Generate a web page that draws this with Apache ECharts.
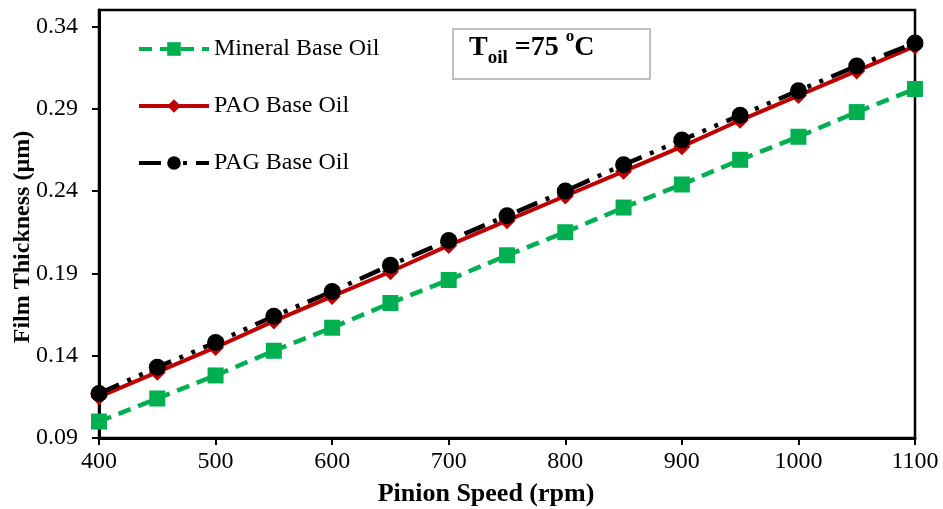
<!DOCTYPE html>
<html>
<head>
<meta charset="utf-8">
<script src="https://cdn.jsdelivr.net/npm/echarts@6/dist/echarts.min.js"></script>
<style>html,body{margin:0;padding:0;background:#fff}#c{width:943px;height:509px}</style>
</head>
<body>
<div id="c"></div>
<script>
// ---- data ----
const speeds = [400, 450, 500, 550, 600, 650, 700, 750, 800, 850, 900, 950, 1000, 1050, 1100];
const mineral = [0.100, 0.114, 0.128, 0.143, 0.157, 0.172, 0.186, 0.201, 0.215, 0.230, 0.244, 0.259, 0.273, 0.288, 0.302];
const pao = [0.115, 0.130, 0.145, 0.161, 0.176, 0.191, 0.207, 0.222, 0.237, 0.252, 0.267, 0.283, 0.298, 0.313, 0.328];
const pag = [0.117, 0.133, 0.148, 0.164, 0.179, 0.195, 0.210, 0.225, 0.240, 0.256, 0.271, 0.286, 0.301, 0.316, 0.330];
const seriesNames = ['Mineral Base Oil', 'PAO Base Oil', 'PAG Base Oil'];
const xTitle = 'Pinion Speed (rpm)';
const yTitle = 'Film Thickness (\u00b5m)';

const pairs = arr => speeds.map((s, i) => [s, arr[i]]);
const FONT = 'Liberation Serif';

const chart = echarts.init(document.getElementById('c'));
const legendBase = {
  orient: 'vertical', left: 132, itemWidth: 70, itemHeight: 17, padding: 5,
  textStyle: { fontFamily: FONT, fontSize: 24, color: '#000' },
  lineStyle: { width: 4 }
};
chart.setOption({
  animation: false,
  backgroundColor: '#fff',
  grid: {
    left: 99, right: 28, top: 10, bottom: 71, containLabel: false, outerBoundsMode: 'none',
    show: true, borderColor: '#000', borderWidth: 2.5, backgroundColor: 'transparent'
  },
  legend: [
    Object.assign({}, legendBase, { top: 32, data: [seriesNames[0]] }),
    Object.assign({}, legendBase, { top: 89, data: [seriesNames[1]] }),
    Object.assign({}, legendBase, { top: 146, data: [seriesNames[2]] })
  ],
  xAxis: {
    type: 'value', min: 400, max: 1100, interval: 100,
    name: xTitle, nameLocation: 'middle', nameGap: 43, nameMoveOverlap: false,
    nameTextStyle: { fontFamily: FONT, fontSize: 26, fontWeight: 'bold', color: '#000', padding: [0, 42, 0, 0] },
    axisLine: { show: true, lineStyle: { color: '#000', width: 3 } },
    axisTick: { show: true, inside: false, length: 7, lineStyle: { color: '#000', width: 2 } },
    axisLabel: { fontFamily: FONT, fontSize: 24, color: '#000', margin: 12, formatter: v => String(v) },
    splitLine: { show: false }
  },
  yAxis: {
    type: 'value', min: 0.09, max: 0.35, interval: 0.05,
    name: yTitle, nameLocation: 'middle', nameGap: 64, nameRotate: 90, nameMoveOverlap: false,
    nameTextStyle: { fontFamily: FONT, fontSize: 24, fontWeight: 'bold', color: '#000', padding: [0, 26, 0, 0] },
    axisLine: { show: true, lineStyle: { color: '#000', width: 3 } },
    axisTick: { show: true, inside: false, length: 7, lineStyle: { color: '#000', width: 2 } },
    axisLabel: {
      fontFamily: FONT, fontSize: 24, color: '#000', margin: 21, showMaxLabel: false,
      formatter: v => (v > 0.345 ? '' : v.toFixed(2))
    },
    splitLine: { show: false }
  },
  series: [
    {
      name: seriesNames[0], type: 'line', data: pairs(mineral),
      symbol: 'rect', symbolSize: 16,
      itemStyle: { color: '#00B050' },
      lineStyle: { color: '#00B050', width: 4.5, type: [13, 8] }
    },
    {
      name: seriesNames[1], type: 'line', data: pairs(pao),
      symbol: 'diamond', symbolSize: 17,
      itemStyle: { color: '#C00000' },
      lineStyle: { color: '#C00000', width: 4, type: 'solid' }
    },
    {
      name: seriesNames[2], type: 'line', data: pairs(pag),
      symbol: 'circle', symbolSize: 17,
      itemStyle: { color: '#000' },
      lineStyle: { color: '#000', width: 4.5, type: [22, 9, 4, 9, 4, 9] }
    }
  ],
  graphic: [
    {
      type: 'rect', left: 452, top: 28, z: 100,
      shape: { width: 197, height: 50 },
      style: { fill: '#fff', stroke: '#bfbfbf', lineWidth: 2 }
    },
    {
      type: 'text', left: 469, top: 28, z: 101,
      style: {
        text: '{a|T}{b|oil}{a| =75 }{c|o}{a|C}',
        rich: {
          a: { fontFamily: FONT, fontSize: 28, fontWeight: 'bold', fill: '#000', lineHeight: 40 },
          b: { fontFamily: FONT, fontSize: 19, fontWeight: 'bold', fill: '#000', lineHeight: 20, verticalAlign: 'bottom' },
          c: { fontFamily: FONT, fontSize: 17, fontWeight: 'bold', fill: '#000', lineHeight: 24, verticalAlign: 'top' }
        }
      }
    }
  ]
});
</script>
</body>
</html>
